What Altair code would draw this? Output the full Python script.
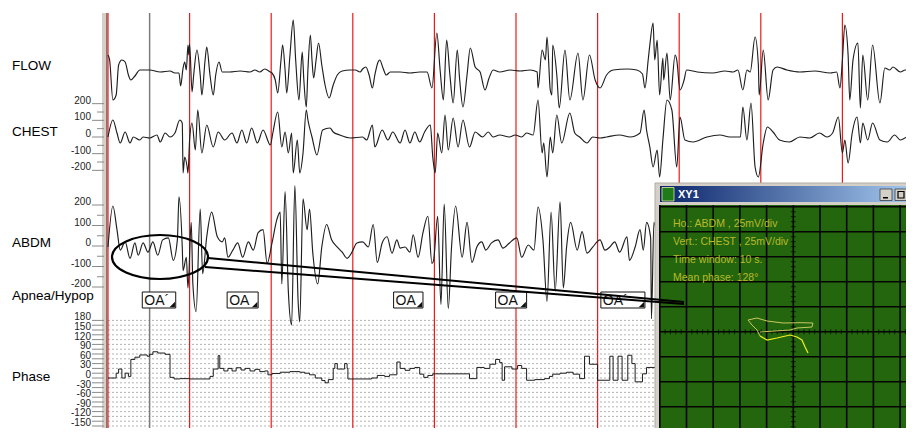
import altair as alt
import pandas as pd

FONT = "Liberation Sans"

# ---------------- data (time in s, amplitude in uV) ----------------
FLOW = [(0.0,102),(0.2,72),(0.6,-168),(1.0,-138),(1.3,42),(1.7,72),(2.1,60),(2.5,-18),(2.8,-48),(3.3,-24),
        (3.9,12),(5.1,12),(6.4,0),(7.6,6),(8.2,-6),(8.7,-6),(8.9,-84),(9.2,24),(9.4,60),(9.6,12),(9.8,162),
        (9.9,102),(10.0,168),(10.3,-120),(10.5,-18),(10.9,132),(11.3,-18),(11.5,-138),(11.9,72),(12.1,150),
        (12.5,-18),(12.9,-138),(13.2,-18),(13.6,60),(14.0,0),(14.9,0),(16.2,6),(17.4,0),(18.0,12),(18.6,0),
        (19.2,18),(19.9,0),(20.1,-6),(20.5,-48),(20.8,-126),(21.2,72),(21.4,162),(21.7,12),(21.9,-126),
        (22.3,102),(22.7,312),(23.0,72),(23.4,-168),(23.8,120),(24.0,-48),(24.3,-210),(24.5,12),(24.8,222),
        (25.0,72),(25.2,-36),(25.5,72),(25.8,174),(26.2,42),(26.6,-78),(27.1,-156),(27.6,-78),(28.1,-18),
        (28.7,6),(29.7,12),(30.3,12),(30.9,0),(31.2,18),(31.6,30),(32.0,-18),(32.4,-96),(32.7,-18),(33.1,60),
        (33.3,72),(33.7,24),(34.1,-18),(34.6,0),(35.8,0),(37.0,-6),(38.2,0),(39.1,0),(39.7,-96),(40.3,234),
        (40.7,12),(41.1,-168),(41.5,192),(41.9,-18),(42.3,-186),(42.8,132),(43.1,-48),(43.5,-210),(44.0,-18),
        (44.4,144),(45.0,30),(45.6,0),(46.2,-108),(46.7,-36),(47.2,12),(48.0,0),(49.3,12),(50.5,6),(51.7,12),
        (52.6,0),(52.7,-96),(53.2,132),(53.6,72),(53.8,210),(54.2,-108),(54.4,-138),(54.5,162),(55.0,-18),
        (55.3,-216),(56.0,132),(56.6,-168),(57.6,114),(58.2,-168),(59.0,102),(59.7,-48),(60.3,-96),(61.1,-18),
        (61.9,12),(63.6,18),(64.8,12),(65.5,-12),(65.8,-96),(66.2,72),(66.4,162),(66.8,294),(67.0,72),
        (67.3,192),(67.6,-138),(68.0,84),(68.1,-48),(68.5,114),(68.9,-168),(69.5,102),(69.7,72),(70.1,-108),
        (70.6,-48),(70.9,12),(72.2,0),(74.1,-6),(75.6,6),(76.6,0),(77.2,12),(77.8,-108),(78.3,12),(78.7,0),
        (79.3,210),(79.7,42),(79.8,-138),(80.3,132),(80.9,-168),(81.5,12),(82.0,30),(83.2,12),(84.8,0),
        (86.6,6),(88.5,-6),(89.3,0),(89.7,-96),(90.0,72),(90.3,282),(90.7,102),(90.9,-168),(91.3,72),
        (91.9,174),(92.2,-216),(92.5,102),(93.1,-168),(93.7,162),(94.6,-186),(95.2,24),(95.8,12),(96.2,30),
        (97.1,0),(97.7,12),(98.7,0)]

CHEST = [(0.0,0),(0.6,102),(1.1,24),(1.5,-36),(2.1,30),(2.7,-36),(3.1,0),(3.9,-18),(4.3,0),(5.1,-6),(6.0,12),
         (6.4,-30),(7.0,24),(7.6,0),(8.2,24),(8.8,102),(9.1,84),(9.2,-216),(9.4,-120),(9.7,-180),(9.8,-216),
         (10.0,-18),(10.3,84),(10.7,-78),(11.0,162),(11.5,-96),(12.1,72),(12.9,-60),(13.5,30),(14.3,-18),
         (15.2,24),(15.8,-36),(16.4,42),(17.0,-36),(17.6,54),(18.3,-36),(19.0,42),(19.9,-48),(20.2,24),
         (20.8,150),(21.3,-60),(21.7,30),(22.1,-96),(22.5,24),(22.7,-216),(23.2,-18),(23.5,-216),(23.9,-96),
         (24.3,162),(24.5,102),(25.0,0),(25.6,-108),(26.3,42),(27.2,54),(27.6,30),(28.4,12),(29.7,-6),
         (31.2,0),(31.7,-18),(32.4,72),(32.7,-60),(33.6,42),(34.3,-18),(34.9,30),(35.8,-36),(36.4,42),
         (37.0,-36),(37.6,30),(38.2,-30),(38.8,30),(39.5,72),(39.8,-120),(40.1,-216),(40.4,24),(40.9,-96),
         (41.3,132),(41.7,-78),(42.3,114),(42.9,-60),(43.5,102),(44.3,-60),(45.0,30),(45.9,0),(46.6,30),
         (47.2,0),(48.0,12),(49.2,0),(49.9,12),(50.7,0),(51.3,24),(52.1,12),(52.7,222),(53.2,-96),(53.4,-36),
         (53.8,-240),(54.2,0),(54.5,-96),(55.0,132),(55.6,-36),(56.6,144),(57.2,24),(57.8,0),(58.7,-36),
         (59.4,0),(60.3,-6),(61.1,0),(62.7,12),(64.0,0),(65.2,24),(65.7,162),(66.0,42),(66.4,-60),(66.8,-180),
         (67.3,-78),(67.6,-240),(68.0,-18),(68.5,222),(69.1,162),(69.7,-180),(70.1,120),(70.7,-18),(71.7,-30),
         (73.4,0),(75.0,12),(76.2,0),(77.5,0),(77.8,180),(78.3,-18),(78.8,204),(79.3,-180),(79.7,-240),
         (80.3,-36),(80.8,60),(81.5,30),(82.3,-18),(83.5,-30),(84.8,0),(86.0,-6),(87.2,24),(88.1,0),(88.8,24),
         (89.5,120),(90.0,-96),(90.3,-18),(90.7,-156),(91.2,24),(91.8,120),(92.2,-36),(92.5,84),(93.1,-18),
         (93.7,84),(94.6,-18),(95.5,-30),(96.4,12),(97.1,-18),(97.9,0),(98.6,12)]

ABDM = [(0.0,-5),(0.6,195),(1.1,80),(1.5,-20),(2.1,20),(2.7,-60),(3.3,15),(3.7,-45),(4.3,15),(4.9,-30),(5.5,20),
        (6.1,-45),(6.7,30),(7.4,40),(8.0,-70),(8.5,30),(8.7,240),(9.1,-5),(9.2,-120),(9.6,-55),(9.8,-205),
        (10.2,115),(10.4,-185),(10.8,-320),(11.3,180),(11.6,-135),(12.1,45),(12.7,165),(13.4,45),(14.0,20),
        (14.3,40),(14.7,-55),(15.3,-20),(15.9,15),(16.5,-55),(17.2,20),(17.8,-20),(18.4,65),(19.0,80),
        (19.5,-85),(20.1,15),(20.7,130),(21.1,165),(21.3,-185),(21.7,265),(22.1,-220),(22.5,-385),(22.9,295),
        (23.3,-270),(23.5,-370),(23.9,230),(24.4,80),(24.7,180),(25.1,-35),(25.7,-185),(26.2,-5),(26.8,105),
        (27.4,30),(28.1,-5),(28.7,-30),(29.3,-60),(29.9,-30),(30.5,15),(31.2,20),(31.9,-5),(32.5,105),
        (33.0,-80),(33.6,15),(34.2,45),(34.8,-35),(35.4,30),(35.8,-10),(36.4,-5),(37.0,-30),(37.4,55),
        (38.0,-55),(38.6,65),(39.2,145),(39.7,-85),(39.9,-70),(40.4,145),(40.8,-285),(41.2,205),(41.7,-305),
        (42.1,-5),(42.6,195),(43.4,-55),(44.0,115),(44.6,-80),(45.2,-5),(45.8,20),(46.3,-20),(47.0,15),
        (47.8,30),(48.4,-10),(49.2,15),(50.1,40),(50.7,-55),(51.5,5),(52.2,-20),(52.7,190),(53.3,30),
        (53.8,-270),(54.3,165),(54.8,-220),(55.4,215),(55.8,-205),(56.2,-5),(56.7,115),(57.5,-20),(58.1,70),
        (58.7,-35),(59.4,-5),(60.3,30),(60.9,-20),(61.5,-5),(62.1,20),(62.7,-30),(63.6,45),(63.9,-70),
        (64.6,-5),(65.2,80),(65.6,-20),(66.0,115),(66.5,40),(66.6,-355),(66.9,115),(67.3,30)]

PHASE = [(0.0,0),(1.0,15),(1.3,28),(1.7,0),(2.1,15),(2.5,5),(2.8,58),(3.3,65),(3.9,72),(4.8,68),(5.1,74),
         (5.5,82),(6.1,78),(7.0,74),(7.6,2),(8.1,-3),(8.8,-2),(10.0,-3),(11.3,-3),(12.5,5),(12.9,28),(13.5,70),
         (13.7,30),(14.2,22),(14.7,30),(15.2,22),(15.7,32),(16.3,25),(16.8,30),(17.4,22),(18.0,27),(18.6,20),
         (19.2,22),(19.6,10),(20.1,14),(21.1,18),(22.3,20),(23.5,18),(24.1,15),(24.7,10),(25.4,0),(26.2,-8),
         (26.6,-15),(27.0,-5),(27.6,30),(27.8,45),(28.1,28),(29.0,45),(29.3,30),(29.4,-3),(30.9,-3),(32.3,0),
         (33.0,8),(33.9,5),(34.5,10),(35.4,50),(35.8,30),(36.4,24),(37.0,30),(37.6,33),(38.2,12),(38.7,2),
         (39.2,8),(39.8,13),(44.3,-2),(45.2,33),(46.1,30),(46.8,43),(47.5,58),(48.0,48),(48.3,-7),(48.6,35),
         (49.5,28),(50.2,39),(50.7,30),(51.3,-7),(52.3,-5),(53.5,-2),(54.1,5),(54.5,12),(55.4,15),(56.2,18),
         (57.0,12),(57.8,-2),(58.4,68),(59.0,43),(60.0,-7),(61.5,68),(61.9,-7),(62.5,68),(63.0,-7),(63.7,71),
         (64.2,45),(64.6,-12),(65.5,13),(66.0,33),(67.3,33)]

EPOCH_T = [0, 10, 20, 30, 40, 50, 60, 70, 80, 90]
CURSOR_T = [5.1]
EVENT_START = [4.2, 14.6, 35.0, 47.5, 60.4]
EVENT_END = [8.3, 18.4, 38.6, 51.3, 65.8]
EVENT_LABEL = ["OA\u00b4", "OA", "OA", "OA", "OA\u00b4"]
AMP_TICKS = [200, 100, 0, -100, -200]
AMP_MINOR = [150, 50, -50, -150]
PHASE_TICKS = [180, 150, 120, 90, 60, 30, 0, -30, -60, -90, -120, -150]
PHASE_GRID = list(range(-180, 181, 15))
XY_GRID_H = [-125, -100, -75, -50, -25, 0, 25, 50, 75, 100]
XY_GRID_V = [125, 100, 75, 50, 25, 0, -25, -50, -75, -100]
XY_TICK_H = list(range(-125, 126, 5))
XY_TICK_V = list(range(-120, 126, 5))
XY_LOOP = [(-31.2,-4.3),(-34.0,1.7),(-38.7,6.7),(-42.4,11.7),(-34.0,13.7),(-24.6,10.7),(-9.6,8.7),(6.3,9.0),
           (18.4,8.7),(17.5,4.7),(3.5,3.7),(-3.1,1.7),(-17.1,0.7),(-31.2,-0.3)]
XY_TAIL = [(13.8,-21.3),(11.0,-15.3),(8.1,-8.3),(3.5,-5.3),(-3.1,-3.3),(-15.3,-6.3),(-24.6,-8.3),(-31.2,-4.3)]
XY_TEXT = ["Ho.: ABDM ,  25mV/div", "Vert.: CHEST ,  25mV/div", "Time window: 10 s.", "Mean phase: 128\u00b0"]

# ---------------- scales ----------------
def S(dom, rng):
    return alt.Scale(domain=dom, range=rng, nice=False, zero=False)

TX = S([0, 90], [100, 834.4])
Y_FLOW = S([-300, 300], [114, 14])
Y_CHEST = S([-300, 300], [179, 79])
Y_ABDM = S([-300, 300], [299.5, 176.5])
Y_PHASE = S([-180, 180], [427.6, 312.4])
XS = S([-100, 100], [678.5, 892.1])
YS = S([-100, 100], [423.7, 223.7])

one = pd.DataFrame({"k": [0]})
layers = []


def box(x, x2, y, y2, **kw):
    return alt.Chart(one).mark_rect(**kw).encode(
        x=alt.value(x), x2=alt.value(x2), y=alt.value(y), y2=alt.value(y2))


def label(txt, x, y, size=13.5, **kw):
    return alt.Chart(pd.DataFrame({"s": [txt]})).mark_text(
        align="left", baseline="middle", font=FONT, fontSize=size, **kw).encode(
        x=alt.value(x), y=alt.value(y), text="s:N")


def trace(pairs, ys, interp="monotone", color="#1e1e1e", width=1.15):
    d = pd.DataFrame(pairs, columns=["t", "v"])
    return alt.Chart(d).mark_line(color=color, strokeWidth=width, interpolate=interp, clip=True).encode(
        x=alt.X("t:Q", scale=TX, axis=None), y=alt.Y("v:Q", scale=ys, axis=None))


# left border strip
layers.append(box(94, 99, 5, 428, fill="#d4d0c8"))
layers.append(box(98, 99.5, 5, 428, fill="#7a7a7a"))

# phase dashed grid
layers.append(alt.Chart(pd.DataFrame({"p": PHASE_GRID})).mark_rule(
    color="#b4b4b4", strokeDash=[2, 2], strokeWidth=1).encode(
    y=alt.Y("p:Q", scale=Y_PHASE, axis=None), x=alt.value(100), x2=alt.value(898)))

# epoch markers and cursor
layers.append(alt.Chart(pd.DataFrame({"t": EPOCH_T})).mark_rule(color="#f01818", strokeWidth=1.2).encode(
    x=alt.X("t:Q", scale=TX, axis=None), y=alt.value(5), y2=alt.value(428)))
layers.append(alt.Chart(pd.DataFrame({"t": CURSOR_T})).mark_rule(color="#7c7c7c", strokeWidth=1.5).encode(
    x=alt.X("t:Q", scale=TX, axis=None), y=alt.value(5), y2=alt.value(428)))

# traces
layers.append(trace(FLOW, Y_FLOW))
layers.append(trace(CHEST, Y_CHEST))
layers.append(trace(ABDM, Y_ABDM))
layers.append(trace(PHASE, Y_PHASE, interp="step-after", width=1.0))

# amplitude tick labels
for ys in (Y_CHEST, Y_ABDM):
    d = pd.DataFrame({"v": AMP_TICKS, "s": [str(v) for v in AMP_TICKS]})
    layers.append(alt.Chart(d).mark_text(align="right", baseline="alphabetic", font=FONT, fontSize=10,
                                         color="#222222").encode(
        y=alt.Y("v:Q", scale=ys, axis=None), x=alt.value(83), text="s:N"))
    layers.append(alt.Chart(d).mark_rule(color="#8a8a8a", strokeWidth=1).encode(
        y=alt.Y("v:Q", scale=ys, axis=None), x=alt.value(84), x2=alt.value(96)))
    layers.append(alt.Chart(pd.DataFrame({"v": AMP_MINOR})).mark_rule(color="#8a8a8a", strokeWidth=1).encode(
        y=alt.Y("v:Q", scale=ys, axis=None), x=alt.value(89), x2=alt.value(96)))

# phase tick labels
dp = pd.DataFrame({"v": PHASE_TICKS, "s": [str(v) for v in PHASE_TICKS]})
layers.append(alt.Chart(dp).mark_text(align="right", baseline="alphabetic", font=FONT, fontSize=10,
                                      color="#222222").encode(
    y=alt.Y("v:Q", scale=Y_PHASE, axis=None), x=alt.value(83), text="s:N"))
layers.append(alt.Chart(pd.DataFrame({"v": PHASE_GRID})).mark_rule(color="#8a8a8a", strokeWidth=1).encode(
    y=alt.Y("v:Q", scale=Y_PHASE, axis=None), x=alt.value(84), x2=alt.value(96)))

# channel names
layers.append(label("FLOW", 4, 58))
layers.append(label("CHEST", 4, 124))
layers.append(label("ABDM", 4, 235))
layers.append(label("Apnea/Hypop", 4, 288))
layers.append(label("Phase", 4, 369))

# apnea events
ev = pd.DataFrame({"s": EVENT_START, "e": EVENT_END, "lab": EVENT_LABEL})
layers.append(alt.Chart(ev).mark_rect(fill="white", stroke="#111111", strokeWidth=1).encode(
    x=alt.X("s:Q", scale=TX, axis=None), x2="e:Q", y=alt.value(284), y2=alt.value(300)))
layers.append(alt.Chart(ev).mark_text(align="left", baseline="middle", font=FONT, fontSize=14, dx=2,
                                      color="#111111").encode(
    x=alt.X("s:Q", scale=TX, axis=None), y=alt.value(292.5), text="lab:N"))
layers.append(alt.Chart(ev).mark_point(shape="M 1 -1 L 1 1 L -1 1 Z", filled=True, color="#111111",
                                       size=30, opacity=1, xOffset=-3.5).encode(
    x=alt.X("e:Q", scale=TX, axis=None), y=alt.value(296.5)))

# ellipse highlighting the apnea
ELL = ("M -1 0 C -1 -0.253 -0.552 -0.458 0 -0.458 C 0.552 -0.458 1 -0.253 1 0 "
       "C 1 0.253 0.552 0.458 0 0.458 C -0.552 0.458 -1 0.253 -1 0 Z")
layers.append(alt.Chart(one).mark_point(shape=ELL, size=96 * 96, filled=False, stroke="#000000",
                                        strokeWidth=2.2, opacity=1).encode(
    x=alt.value(152), y=alt.value(249)))

# ---------------- XY1 window ----------------
layers.append(box(647, 906, 175, 428, fill="#d4d0c8", stroke="#b0aca4", strokeWidth=1))
layers.append(box(652, 906, 178, 194, fill={"gradient": "linear", "x1": 0, "x2": 1, "y1": 0, "y2": 0,
                                             "stops": [{"offset": 0, "color": "#0a246a"},
                                                       {"offset": 1, "color": "#a6caf0"}]}))
layers.append(box(654, 666, 179.5, 193, fill="#1f7a1a", stroke="#e6e6a0", strokeWidth=0.8))
layers.append(label("XY1", 670, 186.5, size=11, fontWeight="bold", color="white"))
layers.append(box(872, 884, 181, 192.5, fill="#d4d0c8", stroke="#404040", strokeWidth=0.8))
layers.append(box(887, 899, 181, 192.5, fill="#d4d0c8", stroke="#404040", strokeWidth=0.8))
layers.append(box(902, 910, 181, 192.5, fill="#d4d0c8", stroke="#404040", strokeWidth=0.8))
layers.append(box(875, 880, 189, 190.5, fill="#000000"))
layers.append(box(890, 896, 183.5, 190, fill="none", stroke="#000000", strokeWidth=1.2))
layers.append(box(652, 906, 197, 428, fill="#23660d"))

layers.append(alt.Chart(pd.DataFrame({"h": XY_GRID_H})).mark_rule(color="#050505", strokeWidth=1.6).encode(
    x=alt.X("h:Q", scale=XS, axis=None), y=alt.value(197), y2=alt.value(428)))
layers.append(alt.Chart(pd.DataFrame({"v": XY_GRID_V})).mark_rule(color="#050505", strokeWidth=1.6).encode(
    y=alt.Y("v:Q", scale=YS, axis=None), x=alt.value(652), x2=alt.value(906)))
layers.append(alt.Chart(pd.DataFrame({"h": XY_TICK_H})).mark_tick(color="#050505", size=5, thickness=1).encode(
    x=alt.X("h:Q", scale=XS, axis=None), y=alt.value(323.7)))
layers.append(alt.Chart(pd.DataFrame({"v": XY_TICK_V})).mark_tick(color="#050505", size=5, thickness=1).encode(
    y=alt.Y("v:Q", scale=YS, axis=None), x=alt.value(785.3)))

for i, txt in enumerate(XY_TEXT):
    layers.append(label(txt, 665, 216 + 18 * i, size=10.5, color="#b9b92c"))

loop = pd.DataFrame(XY_LOOP, columns=["h", "v"]).reset_index()
tail = pd.DataFrame(XY_TAIL, columns=["h", "v"]).reset_index()
layers.append(alt.Chart(loop).mark_line(color="#c9c860", strokeWidth=1).encode(
    x=alt.X("h:Q", scale=XS, axis=None), y=alt.Y("v:Q", scale=YS, axis=None), order="index:Q"))
layers.append(alt.Chart(tail).mark_line(color="#f0f020", strokeWidth=1.2).encode(
    x=alt.X("h:Q", scale=XS, axis=None), y=alt.Y("v:Q", scale=YS, axis=None), order="index:Q"))

# connector lines from ellipse to the XY window
layers.append(alt.Chart(one).mark_rule(color="#000000", strokeWidth=2).encode(
    x=alt.value(200), y=alt.value(250), x2=alt.value(676), y2=alt.value(294)))
layers.append(alt.Chart(one).mark_rule(color="#000000", strokeWidth=2).encode(
    x=alt.value(197), y=alt.value(259), x2=alt.value(676), y2=alt.value(296)))

chart = alt.layer(*layers).resolve_scale(x="independent", y="independent").properties(
    width=898, height=420, padding=0, autosize=alt.AutoSizeParams(type="none")
).configure_view(stroke=None)

chart.save("out.html", embed_options={"renderer": "svg", "actions": False})
